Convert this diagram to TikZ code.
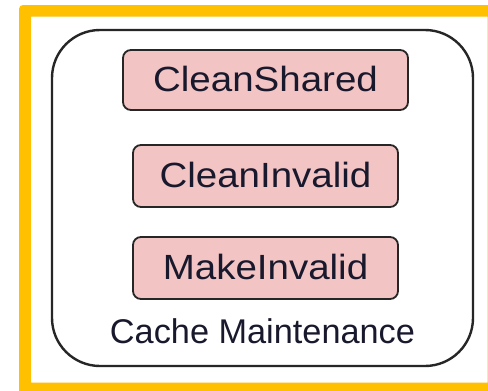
\documentclass[tikz,border=0pt]{standalone}
\usepackage{fontspec}
\setmainfont{Liberation Sans}
\usepackage{graphicx}
\definecolor{frameorange}{RGB}{255,192,0}
\definecolor{boxpink}{RGB}{242,196,196}
\definecolor{txtcol}{RGB}{25,25,45}
\begin{document}
\begin{tikzpicture}[x=1pt,y=-1pt,
  opbox/.style={draw=black!85,line width=1.8pt,fill=boxpink,rounded corners=8pt,
    minimum height=61pt,inner sep=0pt,text height=22pt,text depth=0pt,
    font=\fontsize{35}{42}\selectfont,text=txtcol},
  groupbox/.style={draw=black!85,line width=2.4pt,rounded corners=48pt}]
\useasboundingbox (0,0) rectangle (488,391);
\clip (0,0) rectangle (488,391);
\fill[white] (0,0) rectangle (488,391);
% orange frame
\fill[frameorange,even odd rule] [rounded corners=4pt] (19,5) rectangle (500,400)
  [sharp corners] (31,16.5) rectangle (487.5,382.5);
% group
\draw[groupbox] (52,30) rectangle (473,366);
\node[opbox,minimum width=285pt,minimum height=60pt] (cs) at (265.5,80) {\scalebox{1.1}[1]{CleanShared}};
\node[opbox,minimum width=265pt,minimum height=62pt] (ci) at (265.5,176) {\scalebox{1.1}[1]{CleanInvalid}};
\node[opbox,minimum width=265pt,minimum height=62pt] (mi) at (265.5,268) {\scalebox{1.1}[1]{MakeInvalid}};
\node[anchor=base,inner sep=0pt,font=\fontsize{34.3}{40}\selectfont,text=txtcol] (lbl) at (262.5,343) {Cache Maintenance};
\end{tikzpicture}
\end{document}
